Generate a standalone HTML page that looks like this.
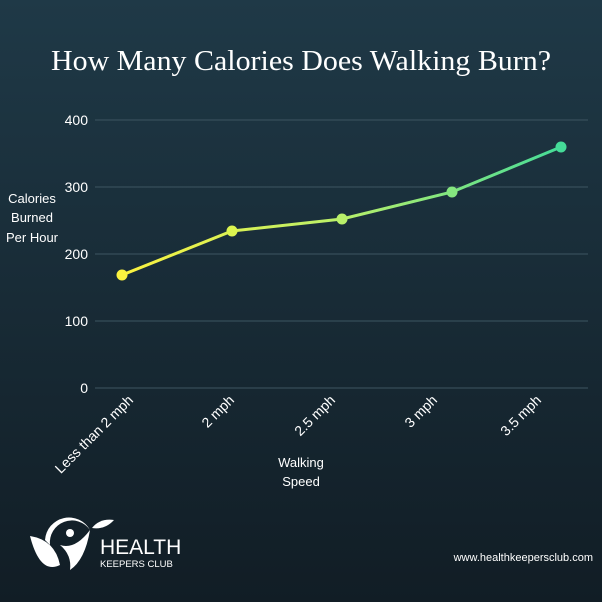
<!DOCTYPE html><html><head><style>body{margin:0}</style></head><body>
<svg width="602" height="602" xmlns="http://www.w3.org/2000/svg" font-family="Liberation Sans, sans-serif">
<defs><linearGradient id="bg" x1="0" y1="0" x2="0" y2="1"><stop offset="0" stop-color="#1f3947"/><stop offset="1" stop-color="#111d25"/></linearGradient>
<linearGradient id="ln" x1="122" y1="0" x2="561" y2="0" gradientUnits="userSpaceOnUse"><stop offset="0" stop-color="#fbf23f"/><stop offset="0.5" stop-color="#b9f06a"/><stop offset="1" stop-color="#45db98"/></linearGradient></defs>
<rect width="602" height="602" fill="url(#bg)"/>
<text x="301" y="70" text-anchor="middle" fill="#fff" font-family="Liberation Serif, serif" font-size="29" textLength="500" lengthAdjust="spacingAndGlyphs">How Many Calories Does Walking Burn?</text>
<g stroke="#3d5561" stroke-width="1">
<line x1="95" y1="120" x2="588" y2="120"/><line x1="95" y1="187" x2="588" y2="187"/><line x1="95" y1="254" x2="588" y2="254"/><line x1="95" y1="321" x2="588" y2="321"/><line x1="95" y1="388" x2="588" y2="388"/></g>
<g fill="#fff" font-size="14" text-anchor="end">
<text x="88" y="125">400</text><text x="88" y="192">300</text><text x="88" y="259">200</text><text x="88" y="326">100</text><text x="88" y="393">0</text></g>
<g fill="#fff" font-size="13" text-anchor="middle"><text x="32" y="203">Calories</text><text x="32" y="222">Burned</text><text x="32" y="242">Per Hour</text>
<text x="301" y="467">Walking</text><text x="301" y="486">Speed</text></g>
<polyline points="122,275 232,231 342,219 452,192 561,147" fill="none" stroke="url(#ln)" stroke-width="3"/>
<circle cx="122" cy="275" r="5.5" fill="#fbf23f"/><circle cx="232" cy="231" r="5.5" fill="#dcf44f"/><circle cx="342" cy="219" r="5.5" fill="#b9f06a"/><circle cx="452" cy="192" r="5.5" fill="#85e67f"/><circle cx="561" cy="147" r="5.5" fill="#45db98"/>
<g fill="#fff" font-size="14" text-anchor="end">
<text transform="translate(134,401) rotate(-45)">Less than 2 mph</text>
<text transform="translate(235,401) rotate(-45)">2 mph</text>
<text transform="translate(336,401) rotate(-45)">2.5 mph</text>
<text transform="translate(438,401) rotate(-45)">3 mph</text>
<text transform="translate(542,401) rotate(-45)">3.5 mph</text></g>
<g fill="#fff">
<path d="M30 536 Q55 540 60 565 Q40 575 30 536Z"/>
<path d="M45 540 A24 24 0 0 1 90 530 A22 22 0 0 0 50 545Z"/>
<circle cx="70" cy="533" r="4"/>
<path d="M60 545 Q75 550 90 530 Q85 560 70 570 Q72 555 60 545Z"/>
<path d="M92 528 Q100 518 114 520 Q105 530 92 528Z"/>
<text x="100" y="554" font-size="21">HEALTH</text>
<text x="100" y="567" font-size="9.5">KEEPERS CLUB</text>
<text x="593" y="561" font-size="11" text-anchor="end">www.healthkeepersclub.com</text></g>
</svg></body></html>
